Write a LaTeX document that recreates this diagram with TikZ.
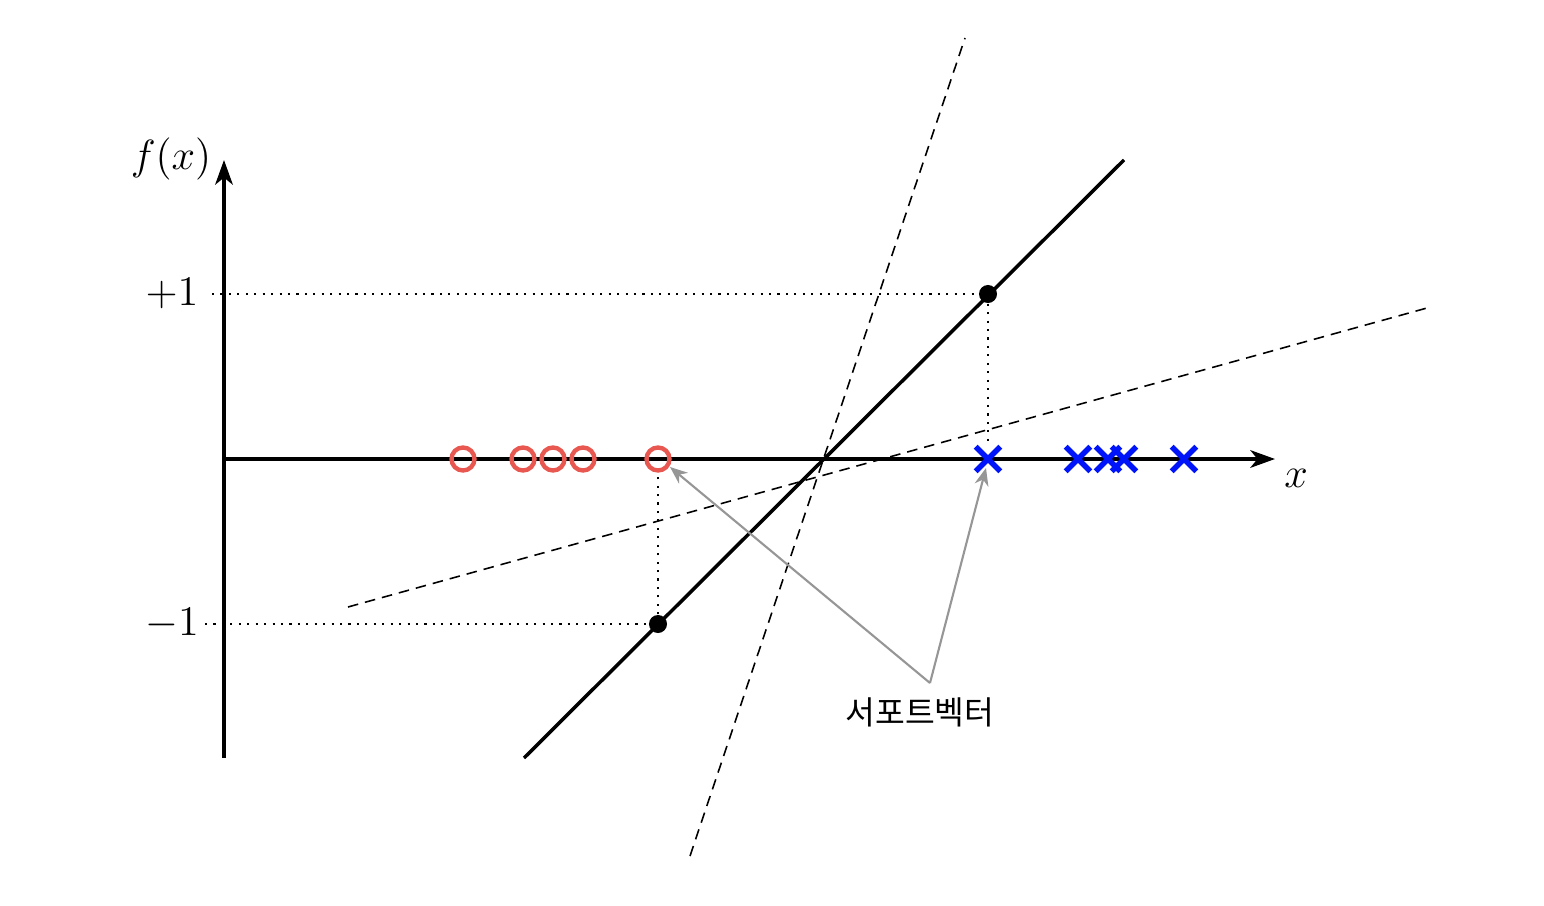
\documentclass[tikz,border=0pt]{standalone}
\usepackage{fontspec}
\newfontfamily\krfont{Noto Sans CJK KR}
\usetikzlibrary{arrows.meta,shapes.misc}
\definecolor{negred}{RGB}{232,88,80}
\definecolor{posblue}{RGB}{0,20,250}
\definecolor{notegray}{RGB}{150,150,150}
\tikzset{
  axis/.style={line width=1pt,-{Stealth[length=7pt,width=5pt,inset=2pt]}},
  guide/.style={line width=0.85pt,dash pattern=on 0.6pt off 1.8pt},
  hyper/.style={line width=0.45pt,dash pattern=on 3pt off 2pt},
  negmark/.style={circle,draw=negred,line width=1.25pt,minimum size=0.23cm,inner sep=0pt},
  posmark/.style={cross out,draw=posblue,line width=1.6pt,minimum size=0.19cm,inner sep=0pt},
  svdot/.style={circle,fill=black,minimum size=0.18cm,inner sep=0pt},
  note/.style={notegray,line width=0.6pt,-{Stealth[length=5pt,width=4pt]}},
  lab/.style={font=\fontsize{13}{15}\selectfont}
}
\begin{document}
\begin{tikzpicture}[x=0.01cm,y=-0.01cm]
\useasboundingbox (0,0) rectangle (1544,906);
% coordinates
\coordinate (O) at (224,459);
\coordinate (ytop) at (224,160);
\coordinate (ybot) at (224,758);
\coordinate (xend) at (1275,459);
\coordinate (p1) at (212,294);
\coordinate (m1) at (205,624);
\coordinate (Lstart) at (524,758);
\coordinate (Lend) at (1124,160);
\coordinate (s1a) at (690,856);
\coordinate (s1b) at (965,38);
\coordinate (s2a) at (348,607);
\coordinate (s2b) at (1427,308);
% hyperplanes
\draw[hyper] (s1a) -- (s1b);
\draw[hyper] (s2a) -- (s2b);
% axes
\draw[axis] (ybot) -- (ytop);
\draw[axis] (O) -- (xend);
% decision function
\draw[line width=1pt] (Lstart) -- (Lend);
% support vector points on line
\node[svdot] (A) at (988,294) {};
\node[svdot] (B) at (658,624) {};
% data points
\node[negmark] (n1) at (463,459) {};
\node[negmark] (n2) at (523,459) {};
\node[negmark] (n3) at (553,459) {};
\node[negmark] (n4) at (583,459) {};
\node[negmark] (n5) at (658,459) {};
\node[posmark] (c1) at (988,459) {};
\node[posmark] (c2) at (1078,459) {};
\node[posmark] (c3) at (1108,459) {};
\node[posmark] (c4) at (1124,459) {};
\node[posmark] (c5) at (1184,459) {};
% guides
\draw[guide] (p1) -- (A.center);
\draw[guide] (A) -- (c1);
\draw[guide] (m1) -- (B.center);
\draw[guide] (B) -- (n5);
% labels
\node[lab] (fx) at (171,159) {$f(x)$};
\node[lab] (plus) at (172,294) {$+1$};
\node[lab] (minus) at (172,624) {$-1$};
\node[lab] (xl) at (1296,478) {$x$};
\node[font=\krfont\fontsize{9.2}{11}\selectfont] (svlab) at (920,712) {서포트벡터};
\coordinate (vtx) at (930,683);
\draw[note] (vtx) -- (670,467);
\draw[note] (vtx) -- (986,468);
\end{tikzpicture}
\end{document}
